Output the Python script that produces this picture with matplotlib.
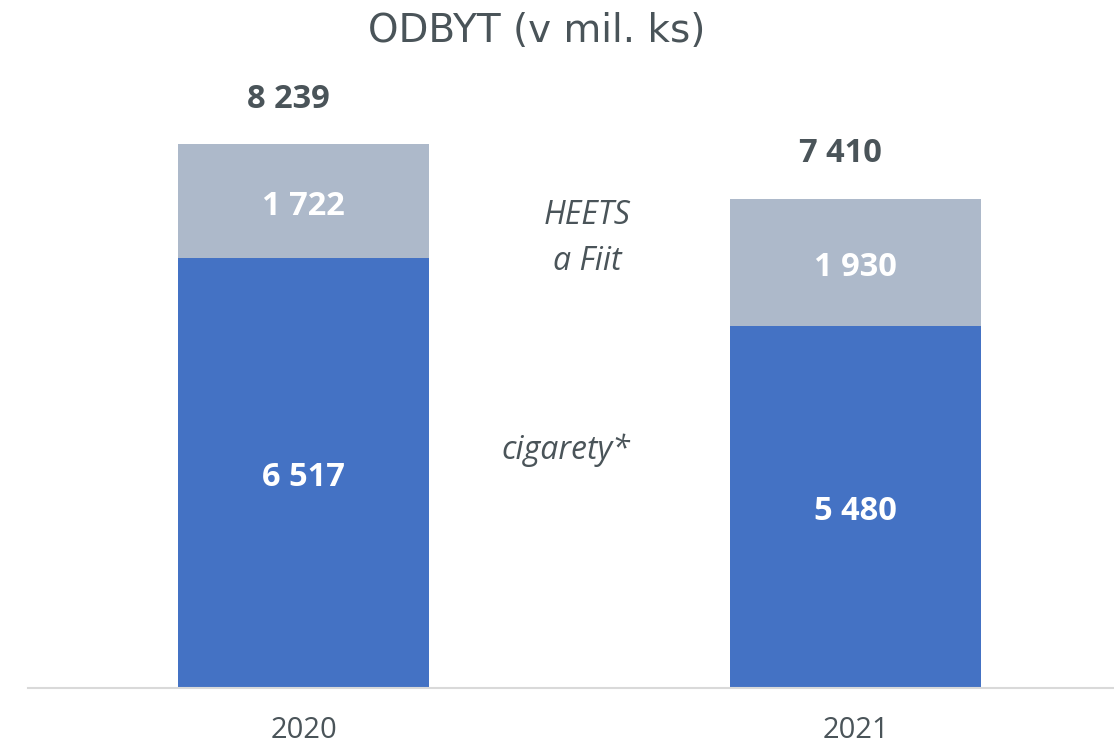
import matplotlib
matplotlib.use("Agg")
import matplotlib.pyplot as plt

years = ["2020", "2021"]
cigarety = [6517, 5480]
heets = [1722, 1930]
totals = [8239, 7410]
title = "ODBYT (v mil. ks)"

blue = "#4472C4"
grey = "#ADB9CA"
txt = "#4A5459"

fig = plt.figure(figsize=(11.14, 7.44), dpi=100)
# axes: left 28px, bottom 56px, right 1114px, top 61px
ax = fig.add_axes([28/1114, 56/744, (1114-28)/1114, (688-61)/744])
x = [0, 1]
w = 0.4547
ax.bar(x, cigarety, width=w, color=blue, zorder=2)
ax.bar(x, heets, width=w, bottom=cigarety, color=grey, zorder=2)
ax.set_xlim(-0.4991, 1.4683)
ax.set_ylim(0, 9495)
for s in ["top", "right", "left"]:
    ax.spines[s].set_visible(False)
ax.spines["bottom"].set_color("#D9D9D9")
ax.spines["bottom"].set_linewidth(1.5)
ax.set_yticks([])
ax.set_xticks(x)
ax.set_xticklabels(years, fontsize=21, color=txt, family="Open Sans")
ax.tick_params(axis="x", length=0, pad=20)

def fmt(v):
    return f"{v:,}".replace(",", " ")

for i in range(2):
    ax.text(x[i], cigarety[i] / 2 - 65, fmt(cigarety[i]),
            ha="center", va="center", color="white", fontsize=23.5,
            fontweight="bold", family="Open Sans")
    ax.text(x[i], cigarety[i] + heets[i] / 2 - 80, fmt(heets[i]),
            ha="center", va="center", color="white", fontsize=23.5,
            fontweight="bold", family="Open Sans")
    ax.text(x[i] - 0.027, totals[i] + 680, fmt(totals[i]),
            ha="center", va="center", color=txt, fontsize=23.5,
            fontweight="bold", family="Open Sans")

ax.text(0.5136, 7150, "HEETS", ha="center", va="center", color=txt,
        fontsize=23, style="italic", family="Open Sans")
ax.text(0.5136, 6452, "a Fiit", ha="center", va="center", color=txt,
        fontsize=23, style="italic", family="Open Sans")
ax.text(0.4755, 3605, "cigarety*", ha="center", va="center", color=txt,
        fontsize=23, style="italic", family="Open Sans")

fig.text(537/1114, 1 - 31/744, title, ha="center", va="center",
         fontsize=28, color=txt, family="DejaVu Sans")

fig.savefig("out.png", dpi=100)
